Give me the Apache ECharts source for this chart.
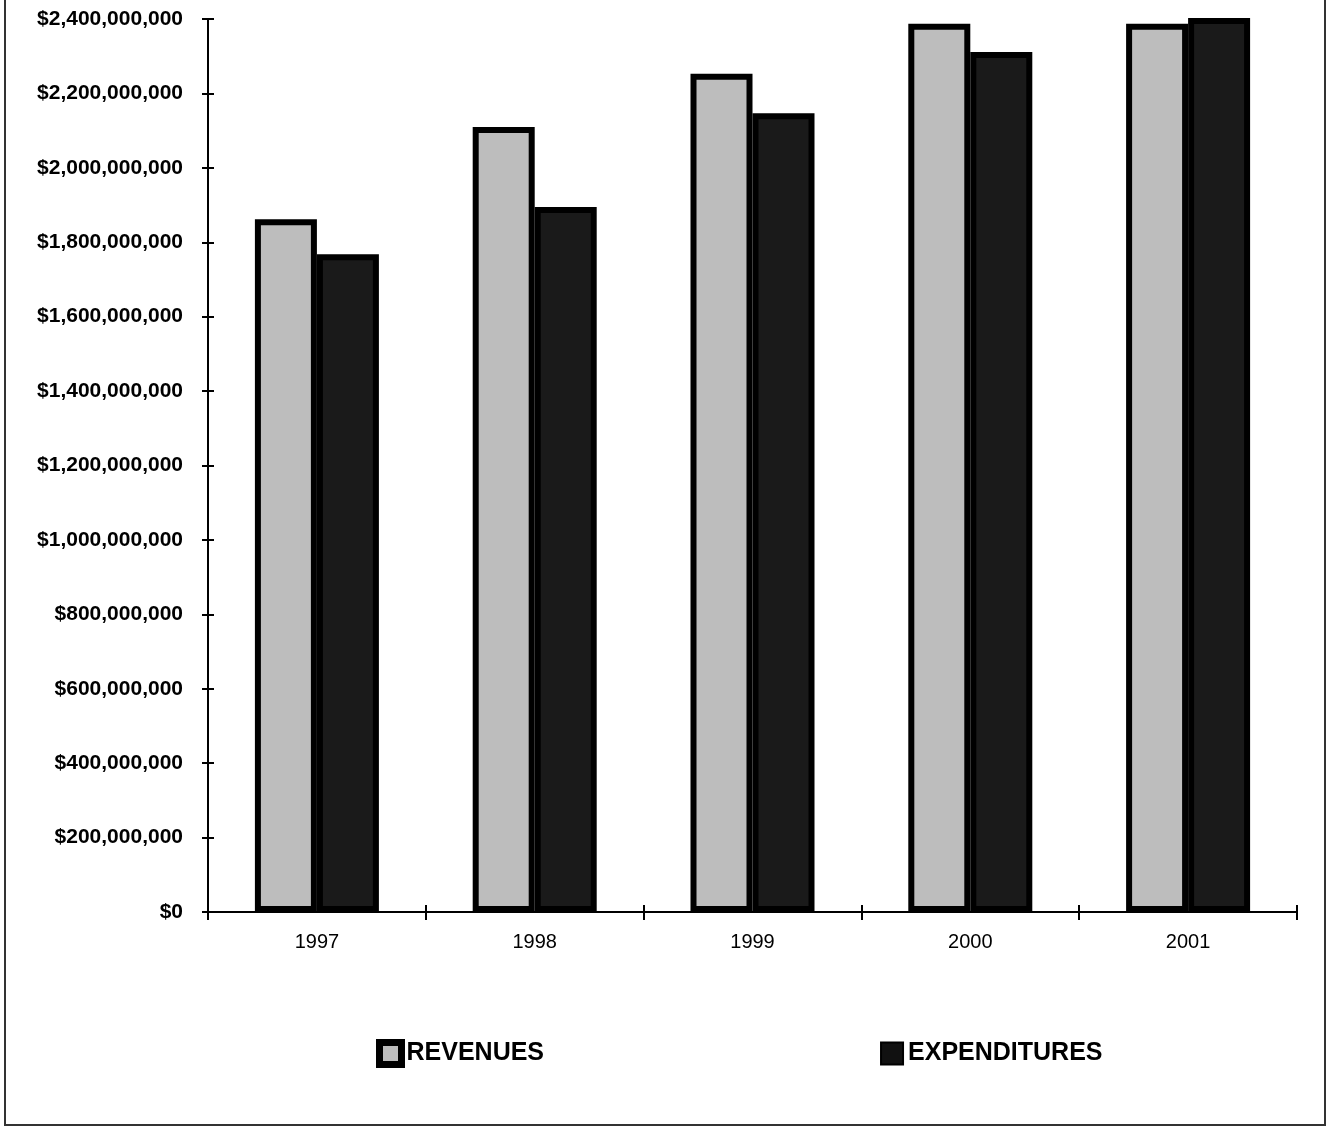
<!DOCTYPE html>
<html>
<head>
<meta charset="utf-8">
<script src="https://cdn.jsdelivr.net/npm/echarts@6/dist/echarts.min.js"></script>
<style>
html,body{margin:0;padding:0;background:#fff;}
#main{width:1328px;height:1127px;}
</style>
</head>
<body>
<div id="main"></div>
<script>
var years = ['1997', '1998', '1999', '2000', '2001'];
var revenues = [1862000000, 2110000000, 2253000000, 2387000000, 2387000000];
var expenditures = [1768000000, 1895000000, 2147000000, 2311000000, 2403000000];
var yMin = 0, yMax = 2400000000, yStep = 200000000;

function money(v) {
  return '$' + String(Math.round(v)).replace(/\B(?=(\d{3})+(?!\d))/g, ',');
}

var chart = echarts.init(document.getElementById('main'), null, {renderer: 'canvas'});
var FONT = '"Liberation Sans", Arial, sans-serif';
chart.setOption({
  animation: false,
  backgroundColor: '#fff',
  grid: {left: 208, right: 31, top: 19, bottom: 215, containLabel: false},
  legend: {
    left: 376, top: 1039, padding: 0,
    itemWidth: 22, itemHeight: 22, itemGap: 336,
    icon: 'rect',
    textStyle: {fontFamily: FONT, fontWeight: 'bold', fontSize: 25, color: '#000', padding: [3, 0, 0, 0]},
    data: [
      {name: 'REVENUES', itemStyle: {color: '#bdbdbd', borderColor: '#000', borderWidth: 7}},
      {name: 'EXPENDITURES', itemStyle: {color: '#111', borderColor: '#000', borderWidth: 2}}
    ]
  },
  xAxis: [{
    type: 'category', data: years,
    axisLine: {onZero: false, lineStyle: {color: '#000', width: 2}},
    axisTick: {show: true, length: 8, lineStyle: {color: '#000', width: 2}},
    axisLabel: {fontFamily: FONT, fontSize: 20, color: '#000', margin: 20}
  }, {
    type: 'category', data: years, position: 'bottom', offset: -7,
    axisLine: {show: false, onZero: false},
    axisTick: {show: true, length: 7, lineStyle: {color: '#000', width: 2}},
    axisLabel: {show: false}
  }],
  yAxis: [{
    type: 'value', min: yMin, max: yMax, interval: yStep,
    axisLine: {show: true, onZero: false, lineStyle: {color: '#000', width: 2}},
    axisTick: {show: true, length: 6, lineStyle: {color: '#000', width: 2}},
    splitLine: {show: false},
    axisLabel: {fontFamily: FONT, fontWeight: 'bold', fontSize: 21, color: '#000', margin: 25, formatter: money}
  }, {
    type: 'value', min: yMin, max: yMax, interval: yStep, position: 'left', offset: -6,
    axisLine: {show: false, onZero: false},
    axisTick: {show: true, length: 6, lineStyle: {color: '#000', width: 2}},
    splitLine: {show: false},
    axisLabel: {show: false}
  }],
  series: [{
    name: 'REVENUES', type: 'bar', data: revenues, barWidth: 62, barGap: '0%', clip: false,
    xAxisIndex: 0, yAxisIndex: 0,
    itemStyle: {color: '#bdbdbd', borderColor: '#000', borderWidth: 6}
  }, {
    name: 'EXPENDITURES', type: 'bar', data: expenditures, barWidth: 62, barGap: '0%', clip: false,
    xAxisIndex: 0, yAxisIndex: 0,
    itemStyle: {color: '#1a1a1a', borderColor: '#000', borderWidth: 6}
  }, {
    name: 'ticks', type: 'line', data: [null, null, null, null, null], xAxisIndex: 1, yAxisIndex: 1, silent: true,
    symbol: 'none', lineStyle: {opacity: 0}
  }],
  graphic: [{
    type: 'polyline', silent: true,
    shape: {points: [[5, 0], [5, 1125], [1325, 1125], [1325, 0]]},
    style: {stroke: '#333', lineWidth: 2, fill: null}
  }]
});
</script>
</body>
</html>
